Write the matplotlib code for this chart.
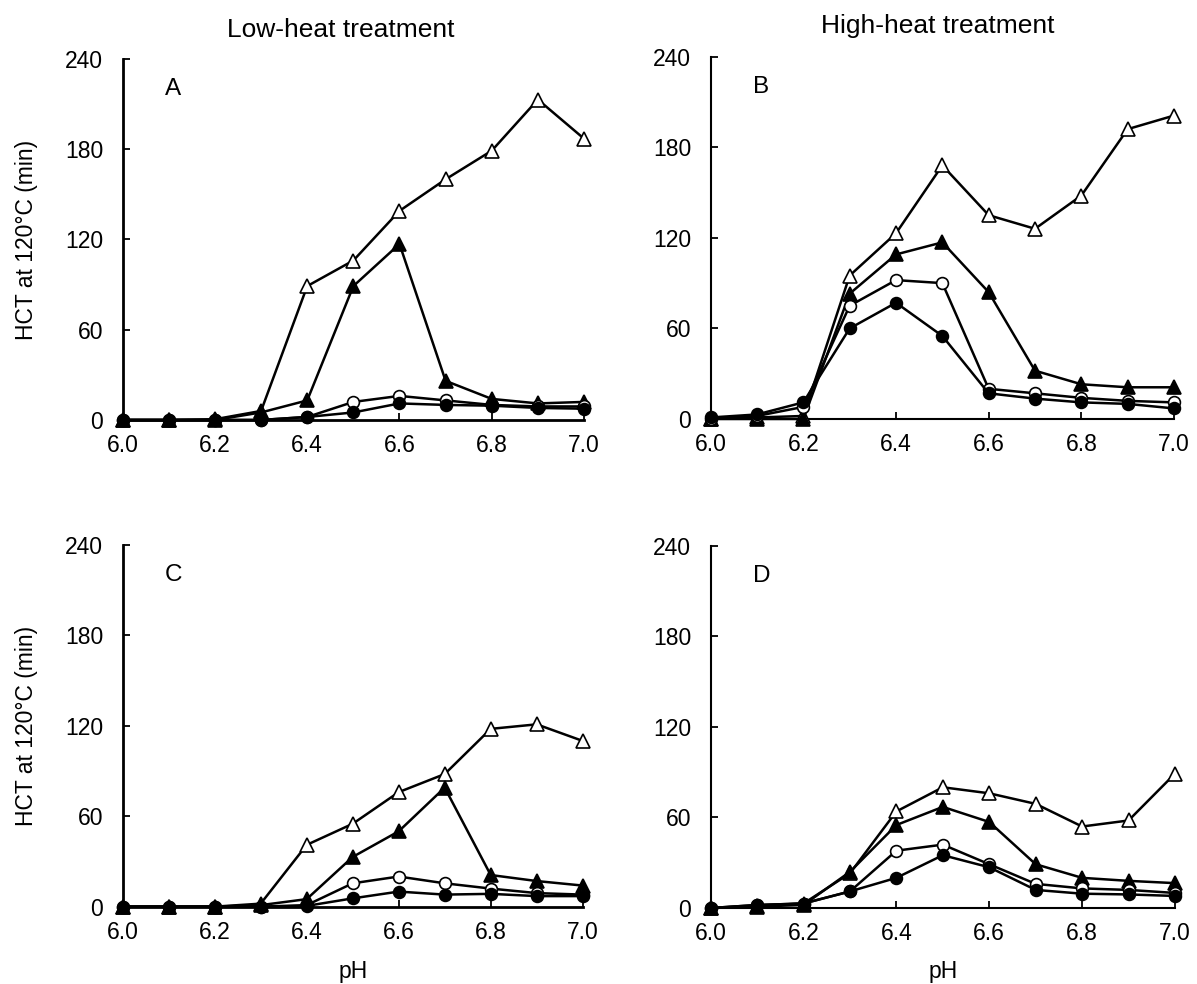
import matplotlib
matplotlib.use('Agg')
import matplotlib.pyplot as plt

plt.rcParams['font.family'] = ['Liberation Sans', 'DejaVu Sans']

ph = [6.0, 6.1, 6.2, 6.3, 6.4, 6.5, 6.6, 6.7, 6.8, 6.9, 7.0]

# panel A - low heat
A_open_tri = [0, 0, 0.5, 6, 89, 106, 139, 160, 179, 213, 187]
A_fill_tri = [0, 0, 0, 5, 13, 89, 117, 26, 14, 11, 12]
A_open_circ = [0, 0, 0, 0, 2, 12, 16, 13, 10, 9, 9]
A_fill_circ = [0, 0, 0, 0, 2, 5, 11, 10, 9.5, 8, 7.5]

# panel B - high heat
B_open_tri = [0, 1, 2, 95, 123, 168, 135, 126, 148, 192, 201]
B_fill_tri = [0, 0, 0, 83, 109, 117, 84, 32, 23, 21, 21]
B_open_circ = [0, 2, 8, 75, 92, 90, 20, 17, 14, 12, 11]
B_fill_circ = [1, 3, 11, 60, 77, 55, 17, 13.5, 11, 10, 7]

# panel C - low heat
C_open_tri = [0, 0, 0, 2, 41, 55, 76, 88, 118, 121, 110]
C_fill_tri = [0, 0, 0, 1, 5, 33, 50, 79, 21, 17, 14]
C_open_circ = [0, 0, 0, 0, 1, 15.5, 20, 15.5, 12, 9, 8]
C_fill_circ = [0, 0, 0, 0, 0.5, 5.5, 10, 8, 8.5, 7, 7]

# panel D - high heat
D_open_tri = [0, 1.5, 3, 23, 64, 80, 76, 69, 54, 58, 89]
D_fill_tri = [0, 1, 2, 24, 55, 67, 57, 29, 20, 18, 16.5]
D_open_circ = [0, 2, 3, 11, 38, 42, 29, 16, 13, 12, 10]
D_fill_circ = [0, 2, 3, 11, 20, 35, 27, 12, 9.5, 9, 8]

panels = [
    ('A', [0.1025, 0.5732, 0.3854, 0.3669], A_open_tri, A_fill_tri, A_open_circ, A_fill_circ, 2.0),
    ('B', [0.5937, 0.5742, 0.3871, 0.3682], B_open_tri, B_fill_tri, B_open_circ, B_fill_circ, 1.5),
    ('C', [0.1025, 0.0786, 0.3843, 0.3675], C_open_tri, C_fill_tri, C_open_circ, C_fill_circ, 2.0),
    ('D', [0.5937, 0.0772, 0.3879, 0.3682], D_open_tri, D_fill_tri, D_open_circ, D_fill_circ, 1.5),
]

fig = plt.figure(figsize=(11.97, 9.84), dpi=100)

for letter, pos, otri, ftri, ocirc, fcirc, spw in panels:
    ax = fig.add_axes(pos)
    kw = dict(color='k', lw=1.8, mec='k', mew=1.2, clip_on=False)
    ax.plot(ph, otri, marker='^', ms=9.5, mfc='white', zorder=3, **kw)
    ax.plot(ph, ftri, marker='^', ms=9.5, mfc='k', zorder=4, **kw)
    ax.plot(ph, ocirc, marker='o', ms=8.5, mfc='white', zorder=5, **kw)
    ax.plot(ph, fcirc, marker='o', ms=8.5, mfc='k', zorder=6, **kw)

    ax.set_xlim(6.0, 7.0)
    ax.set_ylim(0, 240)
    ax.set_xticks([6.0, 6.2, 6.4, 6.6, 6.8, 7.0])
    ax.set_xticklabels(['6.0', '6.2', '6.4', '6.6', '6.8', '7.0'])
    ax.set_yticks([0, 60, 120, 180, 240])
    ax.spines['top'].set_visible(False)
    ax.spines['right'].set_visible(False)
    ax.spines['left'].set_linewidth(spw)
    ax.spines['bottom'].set_linewidth(spw)
    ax.tick_params(axis='both', direction='in', length=5, width=1.3, labelsize=16.5)
    ax.tick_params(axis='y', pad=14)
    ax.tick_params(axis='x', pad=10)
    ax.text(0.092, 0.90, letter, transform=ax.transAxes, fontsize=17.5, va='baseline')

fig.text(0.2849, 0.9624, 'Low-heat treatment', fontsize=19, ha='center', va='baseline')
fig.text(0.7836, 0.9665, 'High-heat treatment', fontsize=19, ha='center', va='baseline')

fig.text(0.022, 0.756, 'HCT at 120°C (min)', fontsize=16.5, rotation=90, ha='center', va='center')
fig.text(0.022, 0.262, 'HCT at 120°C (min)', fontsize=16.5, rotation=90, ha='center', va='center')

fig.text(0.2947, 0.006, 'pH', fontsize=16.5, ha='center', va='baseline')
fig.text(0.7878, 0.006, 'pH', fontsize=16.5, ha='center', va='baseline')

plt.savefig('out.png', dpi=100)
